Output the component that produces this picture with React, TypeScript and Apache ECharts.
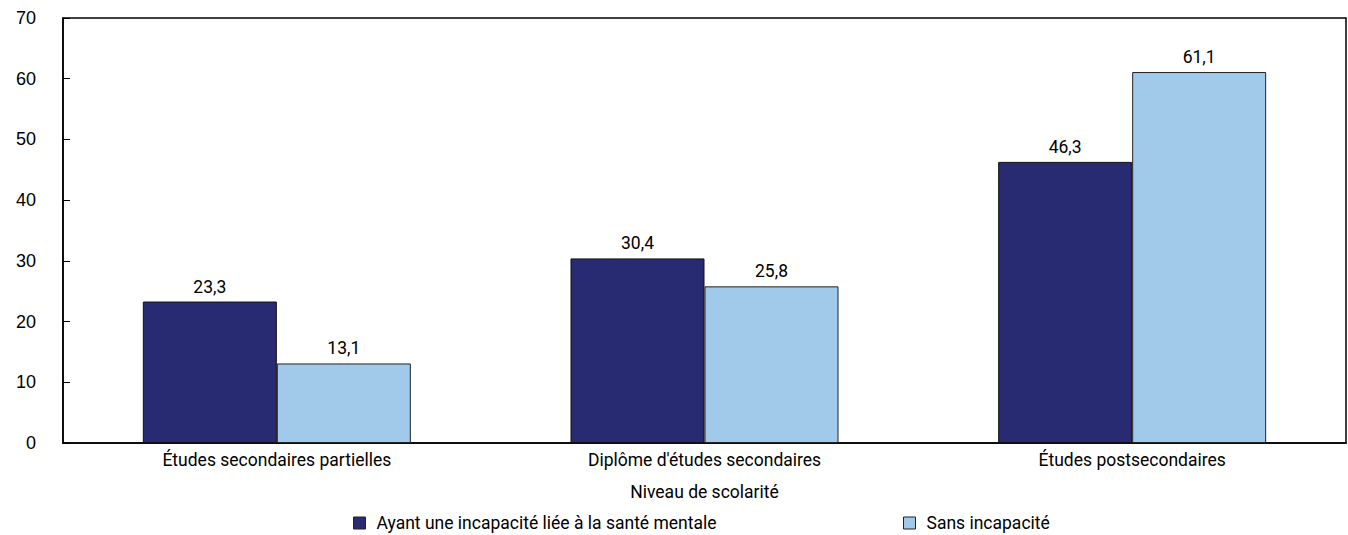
import React, { useEffect, useRef } from "react";
import * as echarts from "echarts";

const categories = [
  "Études secondaires partielles",
  "Diplôme d'études secondaires",
  "Études postsecondaires",
];
const seriesNames = [
  "Ayant une incapacité liée à la santé mentale",
  "Sans incapacité",
];
const mentalHealth = [23.3, 30.4, 46.3];
const noDisability = [13.1, 25.8, 61.1];
const yTicks = [0, 10, 20, 30, 40, 50, 60, 70];
const axisTitle = "Niveau de scolarité";

const NARROW = "Roboto, sans-serif";
const REG = "Liberation Sans, Arial, sans-serif";
const DARK = "#282A72";
const LIGHT = "#A0C9EA";

export default function App() {
  const ref = useRef<HTMLDivElement>(null);
  useEffect(() => {
    document.body.style.margin = "0";
    const chart = echarts.init(ref.current!, null, { renderer: "svg" });
    const label = {
      show: true,
      position: "top",
      distance: 6,
      color: "#000",
      fontFamily: NARROW,
      fontSize: 17.5,
      formatter: (p: any) => String(p.value).replace(".", ","),
    };
    const legendCommon = {
      top: 514,
      padding: 0,
      itemWidth: 12,
      itemHeight: 12,
      icon: "rect",
      itemStyle: { borderColor: "#222", borderWidth: 1 },
      textStyle: { color: "#000", fontFamily: NARROW, fontSize: 17.5, lineHeight: 18, padding: [0, 0, 0, 6] },
    };
    chart.setOption({
      animation: false,
      backgroundColor: "#fff",
      grid: { left: 63, right: 2, top: 18, bottom: 92, show: true, borderColor: "#000", borderWidth: 1.5 },
      xAxis: {
        type: "category",
        data: categories,
        name: axisTitle,
        nameLocation: "middle",
        nameGap: 40,
        nameTextStyle: { color: "#000", fontFamily: NARROW, fontSize: 17.5 },
        axisLine: { lineStyle: { color: "#000", width: 1.5 } },
        axisTick: { show: false },
        axisLabel: { color: "#000", fontFamily: NARROW, fontSize: 17.5, margin: 8 },
      },
      yAxis: {
        type: "value",
        min: yTicks[0],
        max: yTicks[yTicks.length - 1],
        interval: 10,
        axisLine: { show: true, lineStyle: { color: "#000", width: 1.5 } },
        axisTick: { show: true, inside: true, length: 7, lineStyle: { color: "#000" } },
        splitLine: { show: false },
        axisLabel: { color: "#000", fontFamily: REG, fontSize: 18, margin: 27 },
      },
      legend: [
        { ...legendCommon, data: [seriesNames[0]], left: 353 },
        { ...legendCommon, data: [seriesNames[1]], left: 903 },
      ],
      series: [
        {
          name: seriesNames[0],
          type: "bar",
          data: mentalHealth,
          barWidth: 134,
          barGap: "0%",
          itemStyle: { color: DARK, borderColor: "#111", borderWidth: 1 },
          label,
        },
        {
          name: seriesNames[1],
          type: "bar",
          data: noDisability,
          barWidth: 134,
          barGap: "0%",
          itemStyle: { color: LIGHT, borderColor: "#222", borderWidth: 1 },
          label,
        },
      ],
    });
    return () => chart.dispose();
  }, []);
  return <div ref={ref} style={{ width: 1348, height: 535 }} />;
}
